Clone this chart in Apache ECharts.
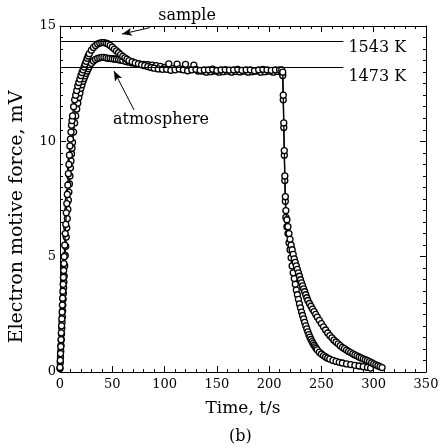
<!DOCTYPE html>
<html>
<head>
<meta charset="utf-8">
<script src="https://cdn.jsdelivr.net/npm/echarts@6/dist/echarts.min.js"></script>
<style>html,body{margin:0;padding:0;background:#fff;}#c{width:443px;height:448px;}</style>
</head>
<body>
<div id="c"></div>
<script>
// ---- data ----
const timeTicks = [0, 50, 100, 150, 200, 250, 300, 350];
const emfTicks = [0, 5, 10, 15];

const sampleTime = [0,0.25,0.5,0.75,1,1.25,1.5,1.75,2,2.25,2.5,2.75,3,3.25,3.5,3.75,4,4.5,5,5.5,6,6.5,7,7.5,8,8.5,9,9.5,10,10.5,11,11.5,12,13,14,15,16,17,18,19,20,21,22,23,24,25,26,27,28,30,32,34,36,38,40,42,44,46,48,50,52,54,56,58,60,62,64,66,69,72,75,78,81,84,87,90,94,98,
102,106,110,114,118,122,126,130,134,138,142,146,150,154,158,162,166,170,174,178,182,186,190,194,198,202,206,210,
212,213,213.5,214,214.5,215,215.5,216,217,218,219,220,221,222,223,224,225,226,227,228,229,230,231,232,233,234,235,236,237,238.5,240,241.5,243,244.5,246,248,250,252,254,256,258,260,262,264,266,268,270,272,274,276,278,280,282,284,286,288,290,292,294,296,298,300,302,304,306,308];
const sampleEmf = [0.2,0.5,0.8,1.1,1.4,1.7,2.0,2.3,2.6,2.9,3.2,3.5,3.8,4.1,4.4,4.7,5.0,5.5,6.0,6.4,6.9,7.3,7.7,8.1,8.6,9.0,9.4,9.8,10.1,10.4,10.7,10.9,11.1,11.5,11.8,12.0,12.2,12.4,12.55,12.7,12.85,12.98,13.1,13.22,13.35,13.47,13.6,13.7,13.8,13.95,14.07,14.15,14.22,14.26,14.28,14.28,14.26,14.22,14.16,14.08,14.0,13.92,13.84,13.76,13.68,13.62,13.56,13.5,13.45,13.4,13.36,13.32,13.28,13.24,13.2,13.17,13.14,13.12,
13.12,13.08,13.1,13.14,13.1,13.06,13.1,13.12,13.08,13.1,13.1,13.13,13.07,13.1,13.11,13.09,13.1,13.12,13.08,13.1,13.1,13.06,13.1,13.12,13.1,13.08,13.1,13.1,
13.1,13.0,12.0,10.8,9.6,8.5,7.6,7.0,6.6,6.3,6.0,5.75,5.5,5.3,5.1,4.9,4.75,4.6,4.45,4.3,4.15,4.0,3.86,3.73,3.6,3.48,3.35,3.22,3.1,2.97,2.85,2.73,2.62,2.5,2.38,2.24,2.1,1.96,1.82,1.69,1.58,1.48,1.38,1.3,1.22,1.14,1.07,1.01,0.95,0.89,0.84,0.79,0.74,0.7,0.65,0.61,0.57,0.53,0.49,0.45,0.4,0.35,0.31,0.27,0.23,0.19];

const atmTime = [0,0.25,0.5,0.75,1,1.25,1.5,1.75,2,2.25,2.5,2.75,3,3.25,3.5,3.75,4,4.5,5,5.5,6,6.5,7,7.5,8,8.5,9,9.5,10,10.5,11,11.5,12,13,14,15,16,17,18,19,20,21,22,23,24,25,26,27,28,30,32,34,36,38,40,42,44,46,48,50,52,54,56,58,60,63,66,69,72,76,80,84,88,92,96,100,104,108,112,116,120,124,128,132,
136,140,144,148,152,156,160,164,168,172,176,180,184,188,192,196,200,204,208,
212,213,213.5,214,214.5,215,215.5,216,217,218,219,220,221,222,223,224,225,226,227,228,229,230,231,232,233,234,235,236,237,238,239,240,241,242,243,244,245,246,248,250,252,254,256,258,261,264,267,270,274,278,282,286,290,294,297];
const atmEmf = [0.15,0.4,0.65,0.9,1.15,1.4,1.65,1.9,2.15,2.4,2.65,2.9,3.15,3.4,3.65,3.9,4.15,4.6,5.05,5.45,5.85,6.25,6.65,7.05,7.45,7.8,8.15,8.5,8.85,9.15,9.45,9.7,9.95,10.4,10.8,11.1,11.4,11.65,11.9,12.1,12.3,12.45,12.6,12.72,12.84,12.95,13.05,13.15,13.24,13.38,13.48,13.55,13.6,13.62,13.64,13.64,13.62,13.6,13.6,13.58,13.57,13.55,13.54,13.52,13.5,13.46,13.43,13.4,13.38,13.36,13.34,13.32,13.3,13.28,13.25,13.2,13.36,13.15,13.35,13.12,13.34,13.1,13.3,13.05,
13.04,13.0,13.02,13.05,13.0,13.02,13.04,13.0,13.03,13.01,13.04,13.0,13.02,13.05,13.0,13.02,13.04,13.0,13.03,
13.0,12.85,11.8,10.6,9.4,8.3,7.4,6.7,6.3,6.0,5.6,5.3,4.95,4.6,4.3,4.05,3.8,3.55,3.35,3.15,2.95,2.78,2.6,2.45,2.3,2.15,2.0,1.87,1.74,1.62,1.51,1.41,1.32,1.24,1.16,1.09,1.02,0.96,0.86,0.78,0.71,0.65,0.6,0.56,0.5,0.46,0.42,0.39,0.35,0.32,0.29,0.26,0.23,0.2,0.17];

const refLabels = ['1543 K', '1473 K'];
const refLevels = [14.33, 13.23];
const refLineEnd = 271;

// ---- chart ----
const FONT = 'DejaVu Serif';
const pair = (ts, vs) => ts.map((t, i) => [t, vs[i]]);
const chart = echarts.init(document.getElementById('c'), null, {renderer: 'canvas'});

const txt = (s) => ({color: '#000', fontFamily: FONT, fontSize: s});
const markerStyle = {color: '#fff', borderColor: '#000', borderWidth: 1.3};

function axis(extra, split) {
  return Object.assign({
    axisLine: {show: true, onZero: false, lineStyle: {color: '#000', width: 1}},
    axisTick: {show: true, inside: true, length: 6, lineStyle: {color: '#000', width: 1}},
    minorTick: {show: true, splitNumber: split, length: 3, lineStyle: {color: '#000', width: 1}},
    splitLine: {show: false},
    minorSplitLine: {show: false}
  }, extra);
}

const tMin = timeTicks[0], tMax = timeTicks[timeTicks.length - 1], tStep = timeTicks[1] - timeTicks[0];
const eMin = emfTicks[0], eMax = emfTicks[emfTicks.length - 1], eStep = emfTicks[1] - emfTicks[0];

chart.setOption({
  animation: false,
  backgroundColor: '#fff',
  title: {text: '(b)', left: 224, top: 424, textStyle: Object.assign(txt(16), {fontWeight: 'normal'})},
  grid: {left: 60, right: 17, top: 26, bottom: 76, containLabel: false},
  xAxis: [
    axis({type: 'value', min: tMin, max: tMax, interval: tStep, position: 'bottom',
      axisLabel: Object.assign(txt(13), {margin: 6}),
      name: 'Time, t/s', nameLocation: 'middle', nameGap: 28, nameTextStyle: txt(17)}, 5),
    axis({type: 'value', min: tMin, max: tMax, interval: tStep, position: 'top',
      axisLabel: {show: false}}, 5)
  ],
  yAxis: [
    axis({type: 'value', min: eMin, max: eMax, interval: eStep, position: 'left',
      axisLabel: Object.assign(txt(13), {margin: 4}),
      name: 'Electron motive force, mV', nameLocation: 'middle', nameGap: 33,
      nameTextStyle: Object.assign(txt(19), {padding: [0, 36, 0, 0]})}, 10),
    axis({type: 'value', min: eMin, max: eMax, interval: eStep, position: 'right',
      axisLabel: {show: false}}, 10)
  ],
  series: [
    {
      name: 'atmosphere', type: 'line', xAxisIndex: 0, yAxisIndex: 0,
      data: pair(atmTime, atmEmf),
      symbol: 'circle', symbolSize: 6, showAllSymbol: true,
      itemStyle: markerStyle, lineStyle: {color: '#000', width: 1.3},
      z: 3,
      markLine: {
        silent: true, symbol: ['none', 'none'],
        lineStyle: {color: '#000', width: 1, type: 'solid'},
        label: {show: false},
        data: [
          [{coord: [70.8, 11.36], symbol: 'none'}, {coord: [51.6, 13.05], symbol: 'arrow', symbolSize: [6, 10]}]
        ]
      }
    },
    {
      name: 'sample', type: 'line', xAxisIndex: 0, yAxisIndex: 0,
      data: pair(sampleTime, sampleEmf),
      symbol: 'circle', symbolSize: 6, showAllSymbol: true,
      itemStyle: markerStyle, lineStyle: {color: '#000', width: 1.3},
      z: 4,
      markLine: {
        silent: true, symbol: ['none', 'none'],
        lineStyle: {color: '#000', width: 1, type: 'solid'},
        label: {show: false},
        data: [
          [{coord: [0, refLevels[0]]}, {coord: [refLineEnd, refLevels[0]]}],
          [{coord: [0, refLevels[1]]}, {coord: [refLineEnd, refLevels[1]]}],
          [{coord: [86, 14.93], symbol: 'none'}, {coord: [59.3, 14.65], symbol: 'arrow', symbolSize: [6, 10]}]
        ]
      }
    }
  ]
});

// annotation texts placed through the chart's own scales
const toPx = (p) => chart.convertToPixel({xAxisIndex: 0, yAxisIndex: 0}, p);
function label(text, p, dx, dy, align) {
  const px = toPx(p);
  return {
    type: 'text', x: px[0] + dx, y: px[1] + dy, z: 10, silent: true,
    style: {text: text, fill: '#000', font: '16px "DejaVu Serif"',
      align: align, verticalAlign: 'middle', textAlign: align, textVerticalAlign: 'middle'}
  };
}
chart.setOption({
  graphic: [
    label(refLabels[0], [refLineEnd, refLevels[0]], 5, 6, 'left'),
    label(refLabels[1], [refLineEnd, refLevels[1]], 5, 10, 'left'),
    label('sample', [121.5, 15.42], 0, 0, 'center'),
    label('atmosphere', [96.6, 10.95], 0, 0, 'center')
  ]
});
</script>
</body>
</html>
